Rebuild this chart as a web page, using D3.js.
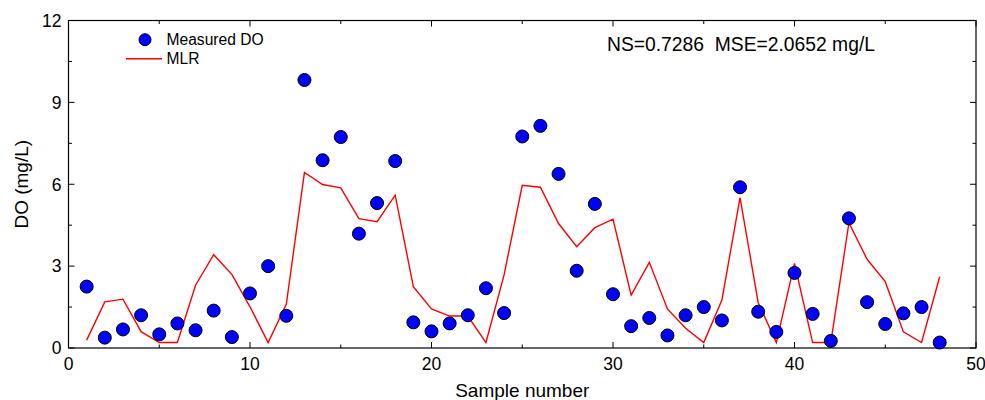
<!DOCTYPE html>
<html>
<head>
<meta charset="utf-8">
<script src="https://cdn.jsdelivr.net/npm/d3@7"></script>
<style>
  body { margin: 0; background: #fff; }
  text { font-family: "Liberation Sans", Arial, sans-serif; fill: #000; }
</style>
</head>
<body>
<svg id="chart"></svg>
<script>
// sample numbers 1..48
const samples = d3.range(1, 49);

const measuredDO = [
  2.25, 0.38, 0.68, 1.2, 0.5, 0.9, 0.65, 1.37, 0.4, 2.0,
  3.0, 1.18, 9.82, 6.88, 7.73, 4.19, 5.31, 6.85, 0.94, 0.61,
  0.9, 1.2, 2.19, 1.28, 7.75, 8.14, 6.38, 2.83, 5.28, 1.97,
  0.8, 1.1, 0.46, 1.2, 1.5, 1.01, 5.89, 1.33, 0.59, 2.75,
  1.25, 0.26, 4.75, 1.68, 0.88, 1.27, 1.5, 0.2
];

const mlrDO = [
  0.29, 1.69, 1.79, 0.6, 0.2, 0.2, 2.3, 3.42, 2.7, 1.51,
  0.2, 1.6, 6.43, 5.99, 5.87, 4.74, 4.63, 5.6, 2.25, 1.43,
  1.17, 1.17, 0.2, 2.68, 5.96, 5.89, 4.56, 3.71, 4.41, 4.72,
  1.94, 3.14, 1.43, 0.72, 0.2, 1.76, 5.51, 1.66, 0.2, 3.1,
  0.2, 0.2, 4.59, 3.25, 2.43, 0.59, 0.2, 2.61
];

const xTicks = [0, 10, 20, 30, 40, 50];
const xMinor = [5, 15, 25, 35, 45];
const yTicks = [0, 3, 6, 9, 12];
const yMinor = [1.5, 4.5, 7.5, 10.5];

const width = 985, height = 400;
const margin = { top: 20.5, right: 9, bottom: 52, left: 68.5 };
const innerW = width - margin.left - margin.right;
const innerH = height - margin.top - margin.bottom;

const svg = d3.select("#chart").attr("width", width).attr("height", height);
const g = svg.append("g").attr("transform", `translate(${margin.left},${margin.top})`);

const x = d3.scaleLinear().domain([0, 50]).range([0, innerW]);
const y = d3.scaleLinear().domain([0, 12]).range([innerH, 0]);

// frame
g.append("rect")
  .attr("width", innerW).attr("height", innerH)
  .attr("fill", "none").attr("stroke", "#000").attr("stroke-width", 1.2);

// inward ticks on all four sides
function drawTicks(vals, len) {
  vals.forEach(v => {
    g.append("line").attr("x1", x(v)).attr("x2", x(v)).attr("y1", innerH).attr("y2", innerH - len)
      .attr("stroke", "#000");
    g.append("line").attr("x1", x(v)).attr("x2", x(v)).attr("y1", 0).attr("y2", len)
      .attr("stroke", "#000");
  });
}
function drawYTicks(vals, len) {
  vals.forEach(v => {
    g.append("line").attr("x1", 0).attr("x2", len).attr("y1", y(v)).attr("y2", y(v))
      .attr("stroke", "#000");
    g.append("line").attr("x1", innerW).attr("x2", innerW - len).attr("y1", y(v)).attr("y2", y(v))
      .attr("stroke", "#000");
  });
}
drawTicks(xTicks, 6);
drawTicks(xMinor, 3.5);
drawYTicks(yTicks, 6);
drawYTicks(yMinor, 3.5);

// tick labels
g.selectAll("text.xt").data(xTicks).join("text")
  .attr("x", d => x(d)).attr("y", innerH + 21.5)
  .attr("text-anchor", "middle").attr("font-size", 17.5).text(d => d);
g.selectAll("text.yt").data(yTicks).join("text")
  .attr("x", -7).attr("y", d => y(d) + 6.3)
  .attr("text-anchor", "end").attr("font-size", 17.5).text(d => d);

// axis titles
svg.append("text")
  .attr("x", margin.left + innerW / 2).attr("y", 396.5)
  .attr("text-anchor", "middle").attr("font-size", 19).text("Sample number");
svg.append("text")
  .attr("transform", `translate(28,${margin.top + innerH / 2}) rotate(-90)`)
  .attr("text-anchor", "middle").attr("font-size", 19).text("DO (mg/L)");

// MLR line
g.append("path")
  .datum(samples.map((s, i) => [s, mlrDO[i]]))
  .attr("fill", "none").attr("stroke", "#ff0000").attr("stroke-width", 1.4)
  .attr("d", d3.line().x(d => x(d[0])).y(d => y(d[1])));

// measured points
g.selectAll("circle.pt").data(samples).join("circle")
  .attr("cx", d => x(d)).attr("cy", (d, i) => y(measuredDO[i]))
  .attr("r", 6.5).attr("fill", "#0000ff").attr("stroke", "#000").attr("stroke-width", 1);

// legend
svg.append("circle").attr("cx", 145).attr("cy", 39.7).attr("r", 6)
  .attr("fill", "#0000ff").attr("stroke", "#000");
svg.append("text").attr("x", 166.5).attr("y", 44.5).attr("font-size", 15.6).text("Measured DO");
svg.append("line").attr("x1", 126).attr("x2", 162).attr("y1", 58.7).attr("y2", 58.7)
  .attr("stroke", "#ff0000").attr("stroke-width", 1.4);
svg.append("text").attr("x", 166.5).attr("y", 64).attr("font-size", 15.6).text("MLR");

// stats annotation
svg.append("text").attr("x", 607).attr("y", 50.7).attr("font-size", 19.3)
  .attr("xml:space", "preserve").style("white-space", "pre")
  .text("NS=0.7286  MSE=2.0652 mg/L");
</script>
</body>
</html>
